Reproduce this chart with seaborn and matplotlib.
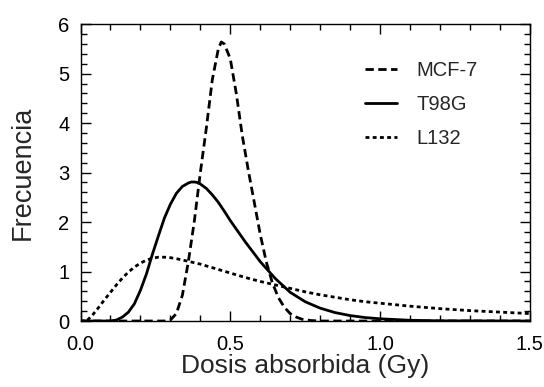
import numpy as np
import pandas as pd
import seaborn as sns
import matplotlib.pyplot as plt
from matplotlib.ticker import MultipleLocator, FormatStrFormatter

# values
mcf7_x = [0.0, 0.28, 0.30, 0.32, 0.34, 0.36, 0.38, 0.40, 0.42, 0.44, 0.46, 0.47, 0.48,
          0.50, 0.52, 0.54, 0.56, 0.58, 0.60, 0.62, 0.64, 0.66, 0.68, 0.70, 0.72, 0.74,
          0.77, 0.80, 1.5]
mcf7_y = [0.0, 0.0, 0.02, 0.15, 0.52, 1.2, 2.02, 3.0, 3.9, 4.88, 5.5, 5.64, 5.6,
          5.3, 4.6, 3.75, 3.05, 2.4, 1.75, 1.2, 0.78, 0.48, 0.28, 0.15, 0.08, 0.035,
          0.01, 0.0, 0.0]

t98g_x = [0.0, 0.10, 0.12, 0.14, 0.16, 0.18, 0.20, 0.22, 0.24, 0.26, 0.28, 0.30, 0.32,
          0.34, 0.36, 0.37, 0.38, 0.39, 0.40, 0.42, 0.44, 0.46, 0.48, 0.50, 0.55, 0.60,
          0.65, 0.70, 0.75, 0.80, 0.85, 0.90, 0.95, 1.00, 1.10, 1.20, 1.5]
t98g_y = [0.0, 0.0, 0.02, 0.08, 0.18, 0.35, 0.62, 0.95, 1.35, 1.72, 2.08, 2.36, 2.58,
          2.72, 2.79, 2.81, 2.81, 2.80, 2.77, 2.68, 2.55, 2.40, 2.22, 2.03, 1.6, 1.2,
          0.86, 0.58, 0.39, 0.26, 0.17, 0.11, 0.07, 0.045, 0.015, 0.004, 0.0]

l132_x = [0.0, 0.02, 0.04, 0.06, 0.08, 0.10, 0.12, 0.14, 0.16, 0.18, 0.20, 0.22, 0.24,
          0.26, 0.28, 0.30, 0.32, 0.35, 0.40, 0.45, 0.50, 0.55, 0.60, 0.65, 0.70, 0.75,
          0.80, 0.85, 0.90, 0.95, 1.00, 1.10, 1.20, 1.30, 1.40, 1.50]
l132_y = [0.0, 0.0, 0.12, 0.27, 0.43, 0.58, 0.73, 0.87, 0.99, 1.09, 1.17, 1.23, 1.27,
          1.29, 1.29, 1.28, 1.26, 1.22, 1.15, 1.06, 0.97, 0.88, 0.80, 0.73, 0.66, 0.59,
          0.53, 0.48, 0.43, 0.39, 0.36, 0.30, 0.25, 0.21, 0.18, 0.15]

sns.set_style("ticks")
plt.rcParams['font.family'] = ['Liberation Sans', 'DejaVu Sans']

fig = plt.figure(figsize=(5.44, 3.87), dpi=100)
ax = fig.add_axes([0.148, 0.1705, 0.826, 0.767])

lw = 2.0
sns.lineplot(x=mcf7_x, y=mcf7_y, ax=ax, color='black', lw=lw,
             linestyle=(0, (3, 1.6)), label='MCF-7')
sns.lineplot(x=t98g_x, y=t98g_y, ax=ax, color='black', lw=lw,
             linestyle='-', label='T98G')
sns.lineplot(x=l132_x, y=l132_y, ax=ax, color='black', lw=lw,
             linestyle=(0, (1.4, 1.2)), label='L132')

ax.set_xlim(0, 1.5)
ax.set_ylim(0, 6)
ax.xaxis.set_major_locator(MultipleLocator(0.5))
ax.xaxis.set_minor_locator(MultipleLocator(0.1))
ax.xaxis.set_major_formatter(FormatStrFormatter('%.1f'))
ax.yaxis.set_major_locator(MultipleLocator(1))
ax.yaxis.set_minor_locator(MultipleLocator(0.2))
ax.tick_params(which='both', direction='in', top=True, right=True,
               colors='black', width=1.0)
ax.tick_params(which='major', length=7, labelsize=14.5)
ax.tick_params(axis='x', which='major', pad=10)
ax.tick_params(axis='y', which='major', pad=8)
ax.tick_params(which='minor', length=4)
for s in ax.spines.values():
    s.set_linewidth(1.0)
    s.set_color('black')

ax.set_xlabel('Dosis absorbida (Gy)', fontsize=19, labelpad=0)
ax.set_ylabel('Frecuencia', fontsize=19.5, labelpad=16)

ax.legend(loc='upper left', bbox_to_anchor=(0.633, 0.875), frameon=False,
          fontsize=14.5, handlelength=1.6, handletextpad=0.95,
          labelspacing=0.75, borderpad=0, borderaxespad=0)

plt.savefig('out.png', dpi=100)
